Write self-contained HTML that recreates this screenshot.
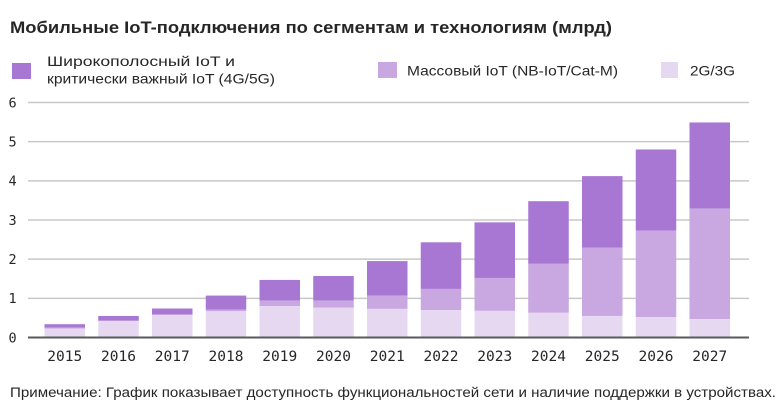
<!DOCTYPE html>
<html>
<head>
<meta charset="utf-8">
<style>
html,body{margin:0;padding:0;background:#fff;}
svg{display:block;}
text{font-family:"Liberation Sans","DejaVu Sans",sans-serif;fill:#262626;}
.mono{font-family:"DejaVu Sans Mono","Liberation Mono",monospace;fill:#262626;}
</style>
</head>
<body>
<svg width="784" height="420" viewBox="0 0 784 420" xmlns="http://www.w3.org/2000/svg">
<rect x="0" y="0" width="784" height="420" fill="#fff"/>
<!-- Title -->
<text x="10" y="33" font-size="17" font-weight="bold" textLength="602" lengthAdjust="spacingAndGlyphs">Мобильные IoT-подключения по сегментам и технологиям (млрд)</text>

<!-- Legend -->
<rect x="12" y="63" width="19" height="16" fill="#a877d3"/>
<text x="47" y="66" font-size="14" textLength="188" lengthAdjust="spacingAndGlyphs">Широкополосный IoT и</text>
<text x="47" y="83.5" font-size="14" textLength="228" lengthAdjust="spacingAndGlyphs">критически важный IoT (4G/5G)</text>

<rect x="378" y="62" width="19" height="16" fill="#c9a7e1"/>
<text x="407" y="75.5" font-size="14" textLength="211" lengthAdjust="spacingAndGlyphs">Массовый IoT (NB-IoT/Cat-M)</text>

<rect x="661" y="62" width="17" height="16" fill="#e6d8f1"/>
<text x="690" y="75.5" font-size="14" textLength="45" lengthAdjust="spacingAndGlyphs">2G/3G</text>

<!-- Gridlines -->
<g stroke="#c8c8c8" stroke-width="1.5">
<line x1="28" y1="102.5" x2="749" y2="102.5"/>
<line x1="28" y1="141.67" x2="749" y2="141.67"/>
<line x1="28" y1="180.83" x2="749" y2="180.83"/>
<line x1="28" y1="220" x2="749" y2="220"/>
<line x1="28" y1="259.17" x2="749" y2="259.17"/>
<line x1="28" y1="298.33" x2="749" y2="298.33"/>
</g>

<!-- Y labels -->
<g font-size="13.5" class="mono">
<text class="mono" x="8.5" y="107.5">6</text>
<text class="mono" x="8.5" y="146.5">5</text>
<text class="mono" x="8.5" y="185.5">4</text>
<text class="mono" x="8.5" y="225">3</text>
<text class="mono" x="8.5" y="264">2</text>
<text class="mono" x="8.5" y="303">1</text>
<text class="mono" x="8.5" y="342.5">0</text>
</g>

<!-- Bars -->
<g>
<!-- 2015 -->
<rect x="44.5" y="324.2" width="40.5" height="3.5" fill="#a877d3"/>
<rect x="44.5" y="327.7" width="40.5" height="0.8" fill="#c9a7e1"/>
<rect x="44.5" y="328.5" width="40.5" height="9" fill="#e6d8f1"/>
<!-- 2016 -->
<rect x="98.25" y="315.96" width="40.5" height="4.7" fill="#a877d3"/>
<rect x="98.25" y="320.66" width="40.5" height="0.39" fill="#c9a7e1"/>
<rect x="98.25" y="321.05" width="40.5" height="16.45" fill="#e6d8f1"/>
<!-- 2017 -->
<rect x="152" y="308.5" width="40.5" height="5.89" fill="#a877d3"/>
<rect x="152" y="314.39" width="40.5" height="0.78" fill="#c9a7e1"/>
<rect x="152" y="315.17" width="40.5" height="22.33" fill="#e6d8f1"/>
<!-- 2018 -->
<rect x="205.75" y="295.59" width="40.5" height="14.1" fill="#a877d3"/>
<rect x="205.75" y="309.69" width="40.5" height="1.57" fill="#c9a7e1"/>
<rect x="205.75" y="311.26" width="40.5" height="26.24" fill="#e6d8f1"/>
<!-- 2019 -->
<rect x="259.5" y="279.92" width="40.5" height="20.76" fill="#a877d3"/>
<rect x="259.5" y="300.68" width="40.5" height="5.48" fill="#c9a7e1"/>
<rect x="259.5" y="306.16" width="40.5" height="31.34" fill="#e6d8f1"/>
<!-- 2020 -->
<rect x="313.25" y="276" width="40.5" height="24.68" fill="#a877d3"/>
<rect x="313.25" y="300.68" width="40.5" height="7.05" fill="#c9a7e1"/>
<rect x="313.25" y="307.73" width="40.5" height="29.77" fill="#e6d8f1"/>
<!-- 2021 -->
<rect x="367" y="261.1" width="40.5" height="34.49" fill="#a877d3"/>
<rect x="367" y="295.59" width="40.5" height="13.31" fill="#c9a7e1"/>
<rect x="367" y="308.9" width="40.5" height="28.6" fill="#e6d8f1"/>
<!-- 2022 -->
<rect x="420.75" y="242.3" width="40.5" height="46.63" fill="#a877d3"/>
<rect x="420.75" y="288.93" width="40.5" height="21.15" fill="#c9a7e1"/>
<rect x="420.75" y="310.08" width="40.5" height="27.42" fill="#e6d8f1"/>
<!-- 2023 -->
<rect x="474.5" y="222.34" width="40.5" height="55.62" fill="#a877d3"/>
<rect x="474.5" y="277.96" width="40.5" height="32.9" fill="#c9a7e1"/>
<rect x="474.5" y="310.86" width="40.5" height="26.64" fill="#e6d8f1"/>
<!-- 2024 -->
<rect x="528.25" y="201.19" width="40.5" height="62.67" fill="#a877d3"/>
<rect x="528.25" y="263.86" width="40.5" height="48.96" fill="#c9a7e1"/>
<rect x="528.25" y="312.82" width="40.5" height="24.68" fill="#e6d8f1"/>
<!-- 2025 -->
<rect x="582" y="176.12" width="40.5" height="71.68" fill="#a877d3"/>
<rect x="582" y="247.8" width="40.5" height="68.16" fill="#c9a7e1"/>
<rect x="582" y="315.96" width="40.5" height="21.54" fill="#e6d8f1"/>
<!-- 2026 -->
<rect x="635.75" y="149.48" width="40.5" height="81.08" fill="#a877d3"/>
<rect x="635.75" y="230.56" width="40.5" height="86.57" fill="#c9a7e1"/>
<rect x="635.75" y="317.13" width="40.5" height="20.37" fill="#e6d8f1"/>
<!-- 2027 -->
<rect x="689.5" y="122.46" width="40.5" height="86.17" fill="#a877d3"/>
<rect x="689.5" y="208.63" width="40.5" height="110.46" fill="#c9a7e1"/>
<rect x="689.5" y="319.09" width="40.5" height="18.41" fill="#e6d8f1"/>
</g>

<!-- Axis -->
<line x1="28" y1="337.5" x2="749" y2="337.5" stroke="#5a5a5a" stroke-width="2"/>

<!-- X labels -->
<g font-size="14.5" text-anchor="middle">
<text class="mono" x="64.75" y="361">2015</text>
<text class="mono" x="118.5" y="361">2016</text>
<text class="mono" x="172.25" y="361">2017</text>
<text class="mono" x="226" y="361">2018</text>
<text class="mono" x="279.75" y="361">2019</text>
<text class="mono" x="333.5" y="361">2020</text>
<text class="mono" x="387.25" y="361">2021</text>
<text class="mono" x="441" y="361">2022</text>
<text class="mono" x="494.75" y="361">2023</text>
<text class="mono" x="548.5" y="361">2024</text>
<text class="mono" x="602.25" y="361">2025</text>
<text class="mono" x="656" y="361">2026</text>
<text class="mono" x="709.75" y="361">2027</text>
</g>

<!-- Footnote -->
<text x="10" y="397" font-size="13.5" textLength="766" lengthAdjust="spacingAndGlyphs">Примечание: График показывает доступность функциональностей сети и наличие поддержки в устройствах.</text>
</svg>
</body>
</html>
